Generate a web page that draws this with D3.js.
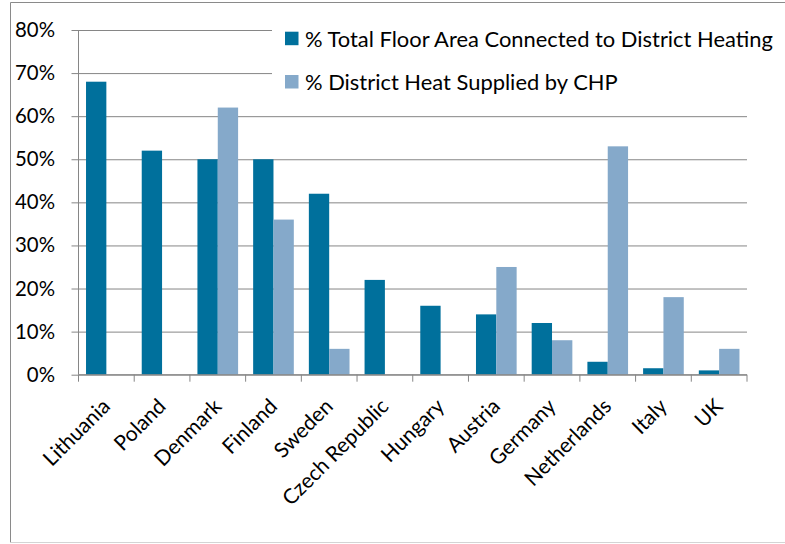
<!DOCTYPE html>
<html><head><meta charset="utf-8">
<script src="https://cdn.jsdelivr.net/npm/d3@7"></script>
<style>body{margin:0;background:#fff}svg{display:block}text{font-family:Lato,"Open Sans",sans-serif;fill:#000}</style>
</head><body><svg id="c" width="785" height="544"></svg>
<script>
const categories = ["Lithuania","Poland","Denmark","Finland","Sweden","Czech Republic","Hungary","Austria","Germany","Netherlands","Italy","UK"];
const seriesNames = ["% Total Floor Area Connected to District Heating","% District Heat Supplied by CHP"];
const floorArea = [68,52,50,50,42,22,16,14,12,3,1.5,1];
const chpShare = [0,0,62,36,6,0,0,25,8,53,18,6];
const yTicks = [0,10,20,30,40,50,60,70,80];
const colors = ["#00709c","#85a9ca"];

const svg = d3.select("#c");
const L = 78.5, R = 747, T = 30, B = 374.7;
const x = d3.scaleBand().domain(categories).range([L,R]).paddingInner(0).paddingOuter(0);
const y = d3.scaleLinear().domain([0,80]).range([B,T]);
const sub = d3.scaleBand().domain([0,1]).range([0, x.bandwidth()]).paddingInner(0).paddingOuter(0.74/2);

function fitSize(txt, target){
  const t = svg.append("text").attr("font-size",20).text(txt);
  const w = t.node().getComputedTextLength();
  t.remove();
  return 20*target/w;
}

// outer border
svg.append("line").attr("x1",10.5).attr("x2",10.5).attr("y1",2.5).attr("y2",542.5).attr("stroke","#8a8a8a");
svg.append("line").attr("x1",10.5).attr("x2",785).attr("y1",2.5).attr("y2",2.5).attr("stroke","#8a8a8a");
svg.append("line").attr("x1",10.5).attr("x2",785).attr("y1",542.5).attr("y2",542.5).attr("stroke","#d4d4d4");

// gridlines + y axis
const yAxis = d3.axisLeft(y).tickValues(yTicks).tickFormat(d=>d+"%").tickSize(-(R-L)).tickPadding(23.5);
const gy = svg.append("g").attr("transform",`translate(${L},0)`).call(yAxis);
gy.select(".domain").remove();
gy.selectAll(".tick line").attr("stroke","#868686").attr("x1",-7);
gy.selectAll(".tick text").attr("font-size",fitSize("80%",40)).style("font-family","Lato,sans-serif");
svg.append("line").attr("x1",L).attr("x2",L).attr("y1",T).attr("y2",B).attr("stroke","#868686");

// bars
const data = categories.map((c,i)=>({c, v:[floorArea[i], chpShare[i]]}));
const g = svg.append("g");
data.forEach(d=>{
  d.v.forEach((v,j)=>{
    if(v<=0) return;
    g.append("rect").attr("x",x(d.c)+sub(j)).attr("width",sub.bandwidth())
     .attr("y",y(v)).attr("height",y(0)-y(v)).attr("fill",colors[j]);
  });
});

// x axis
svg.append("line").attr("x1",L).attr("x2",R).attr("y1",B).attr("y2",B).attr("stroke","#868686");
const tickPos = categories.map(c=>x(c)).concat([R]);
svg.selectAll(".xt").data(tickPos).enter().append("line").attr("x1",d=>d).attr("x2",d=>d)
  .attr("y1",B).attr("y2",B+7).attr("stroke","#868686");
const xfs = fitSize("Czech Republic",140);
svg.selectAll(".xl").data(categories).enter().append("text")
  .attr("transform",d=>`translate(${x(d)+x.bandwidth()/2+5},${B+33}) rotate(-45)`)
  .attr("text-anchor","end").attr("font-size",xfs).text(d=>d);

// legend
const lg = svg.append("g");
lg.append("rect").attr("x",272).attr("y",18).attr("width",513).attr("height",86).attr("fill","#fff");
const lfs = fitSize(seriesNames[0],468);
seriesNames.forEach((s,i)=>{
  const yy = 31.7 + i*43.3;
  lg.append("rect").attr("x",285).attr("y",yy).attr("width",13.5).attr("height",13.5).attr("fill",colors[i]);
  lg.append("text").attr("x",305).attr("y",yy+15).attr("font-size",lfs).text(s);
});
</script></body></html>
